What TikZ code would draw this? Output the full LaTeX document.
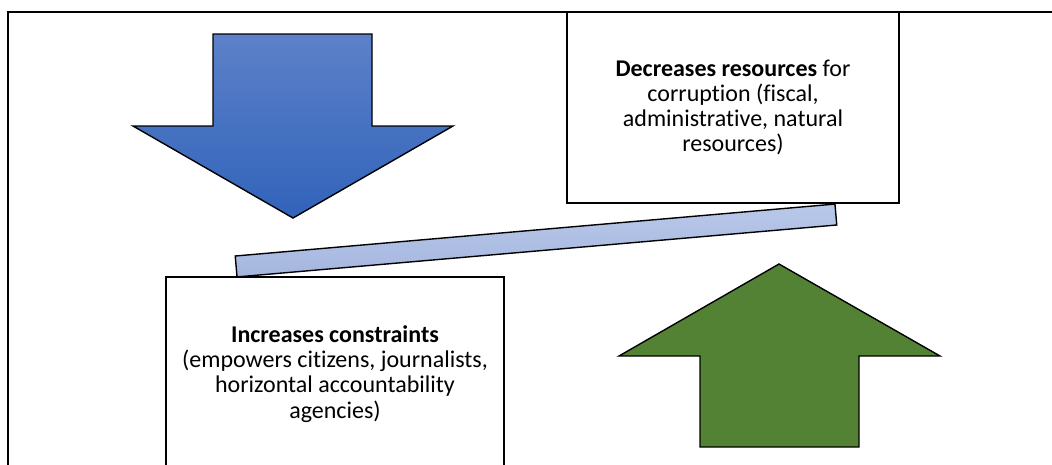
\documentclass[tikz,border=0pt]{standalone}
\usepackage{fontspec}
\setmainfont{Carlito}[Ligatures=NoCommon]
\usepackage{tikz}
\usetikzlibrary{positioning}

\definecolor{arrowblue}{HTML}{3163BA}
\definecolor{arrowbluetop}{HTML}{5D81C9}
\definecolor{arrowgreen}{HTML}{548235}
\definecolor{levertop}{HTML}{B9C8E9}
\definecolor{leverbottom}{HTML}{A5B6DF}

\begin{document}
\begin{tikzpicture}[
    x=1pt, y=-1pt,
    textbox/.style={rectangle, draw, line width=1.8pt, fill=white, align=center, inner sep=0pt, font=\fontsize{24}{25.2}\selectfont},
    lever/.style={rectangle, draw, line width=1.4pt, top color=levertop, bottom color=leverbottom, minimum width=602pt, minimum height=21pt, inner sep=0pt},
    bigarrow/.style={draw, line width=1.4pt, line join=miter}
]
\useasboundingbox (0,0) rectangle (1052,464);
\clip (0,0) rectangle (1052,464);

% Frame
\draw[line width=2.2pt] (1060,12) -- (8,12) -- (8,470);

% Lever between the two boxes
\node[lever, rotate=4.95] (lever) at (536,240.5) {};

% Boxes
\node[textbox, minimum width=332pt, minimum height=191pt] (resources) at (733,107.5)
    {\textbf{Decreases resources} for\\corruption (fiscal,\\administrative, natural\\resources)};
\node[textbox, minimum width=338pt, minimum height=194pt] (constraints) at (335,374)
    {\textbf{Increases constraints}\\(empowers citizens, journalists,\\horizontal accountability\\agencies)};

% Down arrow (blue)
\draw[bigarrow, top color=arrowbluetop, bottom color=arrowblue]
    (213,34) -- (372,34) -- (372,126) -- (453,126) -- (293,218) -- (133,126) -- (213,126) -- cycle;

% Up arrow (green)
\draw[bigarrow, fill=arrowgreen]
    (779,264) -- (940,356) -- (859,356) -- (859,447) -- (700,447) -- (700,356) -- (619,356) -- cycle;

\end{tikzpicture}
\end{document}
